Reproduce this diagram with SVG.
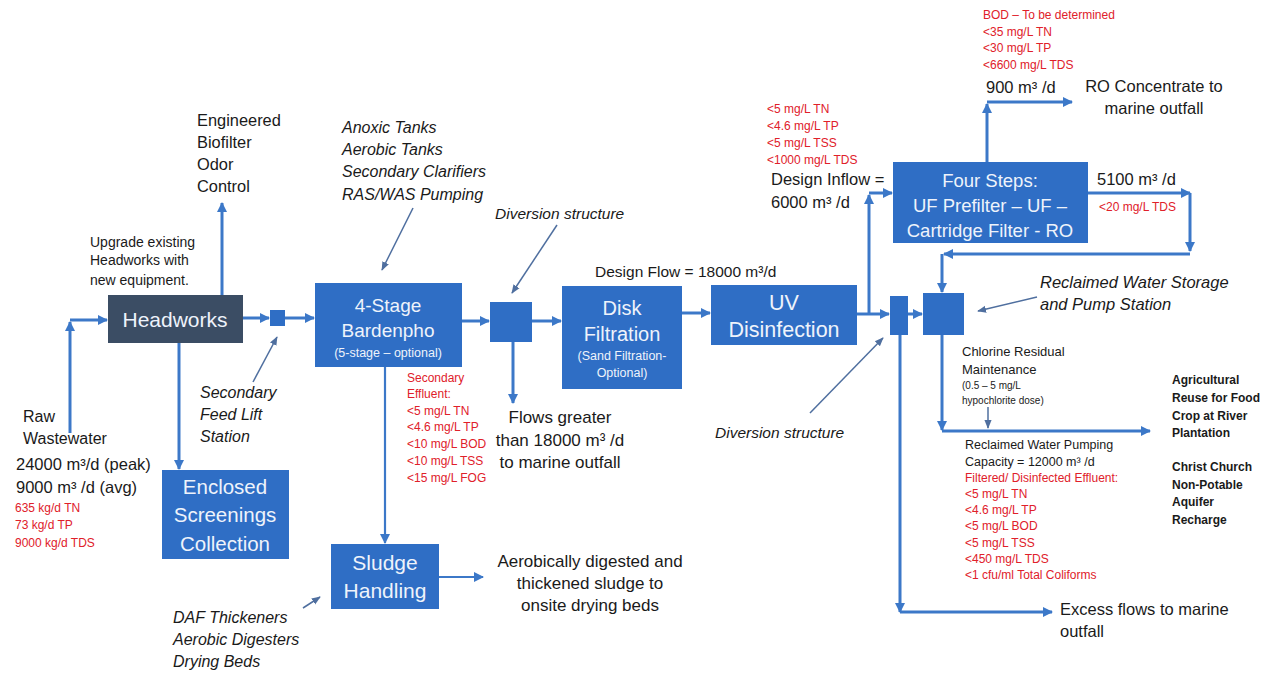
<svg xmlns="http://www.w3.org/2000/svg" width="1263" height="674" viewBox="0 0 1263 674">
<style>
text{font-family:"Liberation Sans",Arial,sans-serif;fill:#1a1a1a}
.box{fill:#2f6ec5}
.dark{fill:#3b4d64}
.bt{fill:#eef3fb;text-anchor:middle}
.red{fill:#e0202a;font-size:12px}
.it{font-style:italic}
.c{stroke:#3c78c8;stroke-width:3;fill:none}
.cs{stroke:#3c78c8;stroke-width:2.2;fill:none}
.l{stroke:#4f6f9f;stroke-width:1.5;fill:none}
</style>
<defs>
<marker id="a" viewBox="0 0 10 10" refX="9" refY="5" markerWidth="10" markerHeight="10" markerUnits="userSpaceOnUse" orient="auto"><path d="M0,0L10,5L0,10z" fill="#3c78c8"/></marker>
<marker id="t" viewBox="0 0 10 10" refX="9" refY="5" markerWidth="9" markerHeight="9" markerUnits="userSpaceOnUse" orient="auto"><path d="M0,1L10,5L0,9z" fill="#4f6f9f"/></marker>
</defs>
<rect width="1263" height="674" fill="#fff"/>

<g id="connectors">
<path class="c" d="M70,433V322" marker-end="url(#a)"/>
<path class="c" d="M70,320H107" marker-end="url(#a)"/>
<path class="c" d="M222,295V203" marker-end="url(#a)"/>
<path class="c" d="M179,343V469" marker-end="url(#a)"/>
<path class="c" d="M243,318H269" marker-end="url(#a)"/>
<path class="c" d="M285,318H314" marker-end="url(#a)"/>
<path class="c" d="M462,321H489" marker-end="url(#a)"/>
<path class="c" d="M532,321H561" marker-end="url(#a)"/>
<path class="c" d="M513,342V403" marker-end="url(#a)"/>
<path class="cs" d="M385,367V543" marker-end="url(#a)"/>
<path class="cs" d="M439,577H483" marker-end="url(#a)"/>
<path class="c" d="M682,313H710" marker-end="url(#a)"/>
<path class="c" d="M857,314H889" marker-end="url(#a)"/>
<path class="c" d="M869,314V195" marker-end="url(#a)"/>
<path class="c" d="M869,193H892" marker-end="url(#a)"/>
<path class="c" d="M908,314H922" marker-end="url(#a)"/>
<path class="c" d="M987,162V104" marker-end="url(#a)"/>
<path class="c" d="M987,102H1072" marker-end="url(#a)"/>
<path class="c" d="M1088,193H1190" marker-end="url(#a)"/>
<path class="c" d="M1190,193V251" marker-end="url(#a)"/>
<path class="c" d="M1190,254H944" marker-end="url(#a)"/>
<path class="c" d="M942,254V292" marker-end="url(#a)"/>
<path class="c" d="M900,335V612" marker-end="url(#a)"/>
<path class="c" d="M900,612H1052" marker-end="url(#a)"/>
<path class="c" d="M942,335V430" marker-end="url(#a)"/>
<path class="c" d="M942,431H1150" marker-end="url(#a)"/>
<path class="l" d="M988,407V428" marker-end="url(#t)"/>
<path class="l" d="M253,382L277,337" marker-end="url(#t)"/>
<path class="l" d="M413,208L382,270" marker-end="url(#t)"/>
<path class="l" d="M557,225L512,293" marker-end="url(#t)"/>
<path class="l" d="M303,608L320,597" marker-end="url(#t)"/>
<path class="l" d="M810,413L883,338" marker-end="url(#t)"/>
<path class="l" d="M1037,297L978,311" marker-end="url(#t)"/>
</g>

<g id="headworks">
<rect class="dark" x="108" y="295" width="135" height="48"/>
<text class="bt" x="175" y="327" font-size="21">Headworks</text>
</g>
<g id="lift-station"><rect class="box" x="270" y="310" width="15" height="16"/></g>
<g id="bardenpho">
<rect class="box" x="315" y="283" width="147" height="84"/>
<text class="bt" x="388" y="312" font-size="19">4-Stage</text>
<text class="bt" x="388" y="337" font-size="19">Bardenpho</text>
<text class="bt" x="388" y="357" font-size="12.5">(5-stage – optional)</text>
</g>
<g id="diversion1"><rect class="box" x="490" y="302" width="42" height="40"/></g>
<g id="disk">
<rect class="box" x="562" y="286" width="120" height="103"/>
<text class="bt" x="622" y="315" font-size="20">Disk</text>
<text class="bt" x="622" y="341" font-size="20">Filtration</text>
<text class="bt" x="622" y="360" font-size="12.5">(Sand Filtration-</text>
<text class="bt" x="622" y="377" font-size="12.5">Optional)</text>
</g>
<g id="uv">
<rect class="box" x="711" y="285" width="146" height="60"/>
<text class="bt" x="784" y="310" font-size="21.5">UV</text>
<text class="bt" x="784" y="337" font-size="21.5">Disinfection</text>
</g>
<g id="diversion2"><rect class="box" x="890" y="296" width="18" height="39"/></g>
<g id="storage"><rect class="box" x="923" y="293" width="41" height="42"/></g>
<g id="four-steps">
<rect class="box" x="893" y="162" width="195" height="81"/>
<text class="bt" x="990" y="187" font-size="18.5">Four Steps:</text>
<text class="bt" x="990" y="212" font-size="18.5">UF Prefilter – UF –</text>
<text class="bt" x="990" y="237" font-size="18.5">Cartridge Filter - RO</text>
</g>
<g id="screenings">
<rect class="box" x="162" y="470" width="127" height="89"/>
<text class="bt" x="225" y="494" font-size="20.5">Enclosed</text>
<text class="bt" x="225" y="522" font-size="20.5">Screenings</text>
<text class="bt" x="225" y="551" font-size="20.5">Collection</text>
</g>
<g id="sludge">
<rect class="box" x="331" y="544" width="108" height="65"/>
<text class="bt" x="385" y="570" font-size="21">Sludge</text>
<text class="bt" x="385" y="598" font-size="21">Handling</text>
</g>

<g id="labels">
<text font-size="16.4" x="197" y="126">Engineered</text>
<text font-size="16.4" x="197" y="148">Biofilter</text>
<text font-size="16.4" x="197" y="170">Odor</text>
<text font-size="16.4" x="197" y="192">Control</text>
<text font-size="14" x="90" y="247">Upgrade existing</text>
<text font-size="14" x="90" y="265">Headworks with</text>
<text font-size="14" x="90" y="285">new equipment.</text>
<text font-size="16" x="23" y="422">Raw</text>
<text font-size="16" x="23" y="444">Wastewater</text>
<text font-size="16.5" x="16" y="470">24000 m³/d (peak)</text>
<text font-size="16.5" x="16" y="493">9000 m³ /d (avg)</text>
<text class="red" font-size="11.5" x="15" y="512">635 kg/d TN</text>
<text class="red" font-size="11.5" x="15" y="529">73 kg/d TP</text>
<text class="red" font-size="11.5" x="15" y="547">9000 kg/d TDS</text>
<text class="it" font-size="16" x="200" y="398">Secondary</text>
<text class="it" font-size="16" x="200" y="420">Feed Lift</text>
<text class="it" font-size="16" x="200" y="442">Station</text>
<text class="it" font-size="16" x="342" y="133">Anoxic Tanks</text>
<text class="it" font-size="16" x="342" y="155">Aerobic Tanks</text>
<text class="it" font-size="16" x="342" y="177">Secondary Clarifiers</text>
<text class="it" font-size="16" x="342" y="200">RAS/WAS Pumping</text>
<text class="it" font-size="15.5" x="495" y="219">Diversion structure</text>
<text font-size="15.5" x="595" y="277">Design Flow = 18000 m³/d</text>
<text class="red" x="407" y="382">Secondary</text>
<text class="red" x="407" y="398">Effluent:</text>
<text class="red" x="407" y="415">&lt;5 mg/L TN</text>
<text class="red" x="407" y="431">&lt;4.6 mg/L TP</text>
<text class="red" x="407" y="448">&lt;10 mg/L BOD</text>
<text class="red" x="407" y="465">&lt;10 mg/L TSS</text>
<text class="red" x="407" y="482">&lt;15 mg/L FOG</text>
<text font-size="17" x="560" y="423" text-anchor="middle">Flows greater</text>
<text font-size="17" x="560" y="446" text-anchor="middle">than 18000 m³ /d</text>
<text font-size="17" x="560" y="468" text-anchor="middle">to marine outfall</text>
<text font-size="17" x="590" y="567" text-anchor="middle">Aerobically digested and</text>
<text font-size="17" x="590" y="589" text-anchor="middle">thickened sludge to</text>
<text font-size="17" x="590" y="611" text-anchor="middle">onsite drying beds</text>
<text class="it" font-size="16" x="173" y="623">DAF Thickeners</text>
<text class="it" font-size="16" x="173" y="645">Aerobic Digesters</text>
<text class="it" font-size="16" x="173" y="667">Drying Beds</text>
<text class="it" font-size="15.5" x="715" y="438">Diversion structure</text>
<text class="red" x="983" y="19">BOD – To be determined</text>
<text class="red" x="983" y="36">&lt;35 mg/L TN</text>
<text class="red" x="983" y="52">&lt;30 mg/L TP</text>
<text class="red" x="983" y="69">&lt;6600 mg/L TDS</text>
<text font-size="16.5" x="986" y="93">900 m³ /d</text>
<text font-size="16.5" x="1154" y="92" text-anchor="middle">RO Concentrate to</text>
<text font-size="16.5" x="1154" y="114" text-anchor="middle">marine outfall</text>
<text class="red" x="767" y="113">&lt;5 mg/L TN</text>
<text class="red" x="767" y="130">&lt;4.6 mg/L TP</text>
<text class="red" x="767" y="147">&lt;5 mg/L TSS</text>
<text class="red" x="767" y="164">&lt;1000 mg/L TDS</text>
<text font-size="16.5" x="771" y="185">Design Inflow =</text>
<text font-size="16.5" x="771" y="208">6000 m³ /d</text>
<text font-size="16.5" x="1097" y="185">5100 m³ /d</text>
<text class="red" x="1099" y="211">&lt;20 mg/L TDS</text>
<text class="it" font-size="16.5" x="1040" y="288">Reclaimed Water Storage</text>
<text class="it" font-size="16.5" x="1040" y="310">and Pump Station</text>
<text font-size="13" x="962" y="356">Chlorine Residual</text>
<text font-size="13" x="962" y="374">Maintenance</text>
<text font-size="10" x="962" y="389">(0.5 – 5 mg/L</text>
<text font-size="10" x="962" y="404">hypochlorite dose)</text>
<text font-size="12.5" x="965" y="449">Reclaimed Water Pumping</text>
<text font-size="12.5" x="965" y="466">Capacity = 12000 m³ /d</text>
<text class="red" x="965" y="482">Filtered/ Disinfected Effluent:</text>
<text class="red" x="965" y="498">&lt;5 mg/L TN</text>
<text class="red" x="965" y="514">&lt;4.6 mg/L TP</text>
<text class="red" x="965" y="530">&lt;5 mg/L BOD</text>
<text class="red" x="965" y="547">&lt;5 mg/L TSS</text>
<text class="red" x="965" y="563">&lt;450 mg/L TDS</text>
<text class="red" x="965" y="579">&lt;1 cfu/ml Total Coliforms</text>
<text font-size="12" font-weight="bold" x="1172" y="384">Agricultural</text>
<text font-size="12" font-weight="bold" x="1172" y="402">Reuse for Food</text>
<text font-size="12" font-weight="bold" x="1172" y="420">Crop at River</text>
<text font-size="12" font-weight="bold" x="1172" y="437">Plantation</text>
<text font-size="12" font-weight="bold" x="1172" y="471">Christ Church</text>
<text font-size="12" font-weight="bold" x="1172" y="489">Non-Potable</text>
<text font-size="12" font-weight="bold" x="1172" y="506">Aquifer</text>
<text font-size="12" font-weight="bold" x="1172" y="524">Recharge</text>
<text font-size="16.5" x="1060" y="615">Excess flows to marine</text>
<text font-size="16.5" x="1060" y="637">outfall</text>
</g>
</svg>
